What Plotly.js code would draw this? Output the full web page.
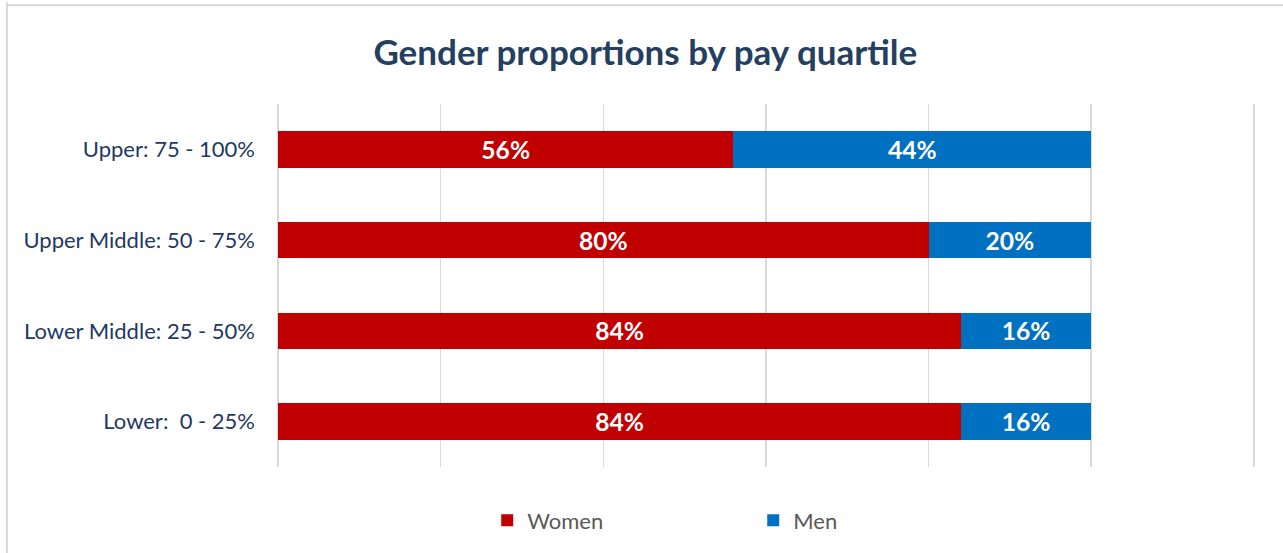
<!DOCTYPE html>
<html>
<head>
<meta charset="utf-8">
<script src="https://cdn.plot.ly/plotly-3.0.1.min.js"></script>
<style>html,body{margin:0;padding:0;background:#fff;}#chart{width:1283px;height:553px;}</style>
</head>
<body>
<div id="chart"></div>
<script>
var categories = ["Lower:  0 - 25%", "Lower Middle: 25 - 50%", "Upper Middle: 50 - 75%", "Upper: 75 - 100%"];
var women = [0.84, 0.84, 0.80, 0.56];
var men = [0.16, 0.16, 0.20, 0.44];
var womenLabels = ["84%", "84%", "80%", "56%"];
var menLabels = ["16%", "16%", "20%", "44%"];

var labelFont = {family: "Lato, 'Open Sans', sans-serif", size: 26, color: "#ffffff", weight: "bold"};

var traces = [
  {type: "bar", orientation: "h", name: "Women", y: categories, x: women,
   text: womenLabels, textposition: "inside", insidetextanchor: "middle",
   textfont: labelFont, marker: {color: "#c00000"}, width: 0.4, hoverinfo: "none"},
  {type: "bar", orientation: "h", name: "Men", y: categories, x: men,
   text: menLabels, textposition: "inside", insidetextanchor: "middle",
   textfont: labelFont, marker: {color: "#0070c0"}, width: 0.4, hoverinfo: "none"}
];

var plotW = (1254 - 278) / 1.2 * 1.21;

var layout = {
  width: 1283, height: 553,
  barmode: "stack",
  paper_bgcolor: "#ffffff", plot_bgcolor: "#ffffff",
  margin: {l: 278, r: 1283 - 278 - plotW, t: 103.5, b: 85.5},
  title: {text: "<b>Gender proportions by pay quartile</b>",
          font: {family: "Lato, 'Open Sans', sans-serif", size: 35, color: "#243f60"},
          x: 0.503, xanchor: "center", y: 0.905, yanchor: "middle"},
  xaxis: {range: [0, 1.21], dtick: 0.2, tick0: 0, showgrid: true, gridcolor: "#d9d9d9", gridwidth: 1.5,
          zeroline: true, zerolinecolor: "#d9d9d9", zerolinewidth: 1.5,
          showticklabels: false, ticks: "", showline: false, fixedrange: true},
  yaxis: {type: "category", range: [-0.5, 3.5], showgrid: false, zeroline: false, showline: false,
          ticks: "", ticklabelstandoff: 22,
          tickfont: {family: "Lato, 'Open Sans', sans-serif", size: 22, color: "#1f3864"}},
  showlegend: true,
  legend: {orientation: "h", x: 0.2144 * 976 / plotW, xanchor: "left", y: -0.147, yanchor: "middle",
           entrywidth: 221, entrywidthmode: "pixels", traceorder: "normal",
           font: {family: "Lato, 'Open Sans', sans-serif", size: 22, color: "#595959"}},
  shapes: [
    {type: "line", xref: "paper", yref: "paper", x0: (7 - 278) / plotW, x1: (7 - 278) / plotW,
     y0: 1.28, y1: -0.3, line: {color: "#d9d9d9", width: 2}},
    {type: "line", xref: "paper", yref: "paper", x0: (7 - 278) / plotW, x1: 1.1,
     y0: (467.5 - 4.5) / 364, y1: (467.5 - 4.5) / 364, line: {color: "#d9d9d9", width: 2}}
  ]
};

Plotly.newPlot("chart", traces, layout, {displayModeBar: false, staticPlot: true});
</script>
</body>
</html>
